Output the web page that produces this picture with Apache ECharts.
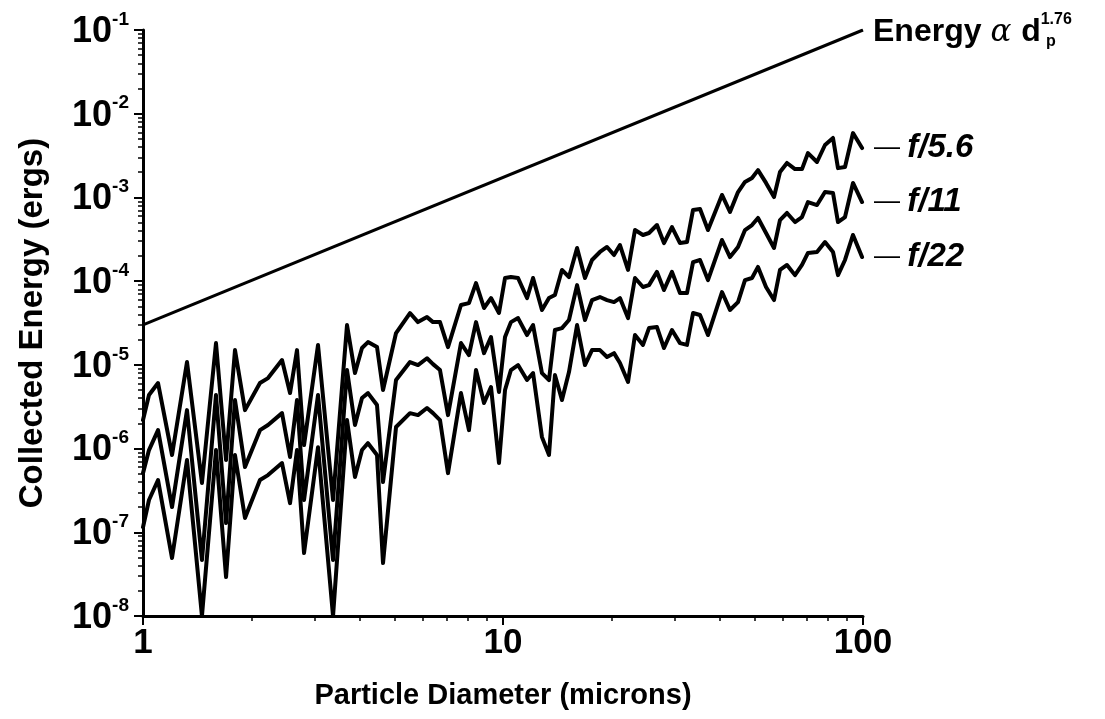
<!DOCTYPE html>
<html><head><meta charset="utf-8">
<script src="https://cdn.jsdelivr.net/npm/echarts@6/dist/echarts.min.js"></script>
<style>html,body{margin:0;padding:0;background:#fff}#c{width:1105px;height:719px}</style>
</head><body><div id="c"></div>
<script>
// Particle diameter (microns), shared sampling of the three aperture curves
const diameters = [1.000,1.039,1.101,1.204,1.325,1.458,1.595,1.701,1.801,1.920,
  2.113,2.225,2.433,2.561,2.678,2.801,3.063,3.372,3.687,3.880,
  4.058,4.217,4.467,4.642,5.045,5.516,5.805,6.150,6.391,6.683,
  7.034,7.643,8.043,8.414,8.856,9.261,9.747,10.13,10.52,11.01,
  11.66,12.12,12.83,13.42,13.94,14.58,15.25,16.06,16.89,17.67,
  18.59,19.45,20.34,21.13,22.25,23.26,24.48,25.44,26.77,28.00,
  29.47,31.02,32.44,33.72,35.26,37.10,40.58,42.71,44.96,47.01,
  49.17,51.09,53.78,56.60,58.81,61.50,64.73,67.69,70.34,74.51,
  78.42,82.54,85.22,89.13,93.80,99.40];
// Collected energy (ergs)
const energyF56 = [2.19e-6,4.36e-6,6.07e-6,8.38e-7,1.08e-5,3.87e-7,1.82e-5,7.29e-7,1.50e-5,2.88e-6,
  6.07e-6,6.95e-6,1.14e-5,4.60e-6,1.50e-5,1.10e-6,1.73e-5,2.43e-7,2.99e-5,7.98e-6,
  1.59e-5,1.87e-5,1.63e-5,5.00e-6,2.40e-5,4.16e-5,3.24e-5,3.72e-5,3.24e-5,3.24e-5,
  1.63e-5,5.19e-5,5.47e-5,9.48e-5,4.78e-5,6.28e-5,4.16e-5,1.09e-4,1.12e-4,1.09e-4,
  6.28e-5,1.09e-4,4.52e-5,6.28e-5,6.82e-5,1.36e-4,1.12e-4,2.49e-4,1.09e-4,1.79e-4,
  2.23e-4,2.56e-4,2.05e-4,2.70e-4,1.36e-4,4.08e-4,3.56e-4,3.76e-4,4.68e-4,2.85e-4,
  4.43e-4,2.85e-4,2.93e-4,7.08e-4,7.26e-4,4.08e-4,1.07e-3,6.70e-4,1.16e-3,1.53e-3,
  1.71e-3,2.12e-3,1.49e-3,1.01e-3,2.01e-3,2.58e-3,2.18e-3,2.18e-3,3.39e-3,2.65e-3,
  4.23e-3,5.13e-3,2.24e-3,2.31e-3,5.87e-3,3.89e-3];
const energyF11 = [5.09e-7,9.60e-7,1.66e-6,2.00e-7,2.88e-6,4.66e-8,4.36e-6,1.29e-7,3.80e-6,6.01e-7,
  1.66e-6,1.91e-6,2.65e-6,7.93e-7,3.80e-6,2.43e-7,4.36e-6,4.66e-8,8.67e-6,1.91e-6,
  4.01e-6,4.60e-6,3.31e-6,3.98e-7,6.59e-6,1.08e-5,9.95e-6,1.20e-5,1.02e-5,8.67e-6,
  2.51e-6,1.82e-5,1.31e-5,3.24e-5,1.38e-5,2.15e-5,4.73e-6,2.15e-5,3.24e-5,3.62e-5,
  2.27e-5,2.99e-5,7.98e-6,6.59e-6,2.61e-5,2.75e-5,3.43e-5,8.97e-5,3.43e-5,5.94e-5,
  6.46e-5,5.94e-5,5.62e-5,6.28e-5,3.62e-5,1.09e-4,8.51e-5,8.97e-5,1.29e-4,7.83e-5,
  1.29e-4,7.21e-5,7.21e-5,1.69e-4,1.79e-4,1.03e-4,3.10e-4,1.94e-4,2.56e-4,4.08e-4,
  4.68e-4,5.68e-4,3.76e-4,2.49e-4,5.37e-4,6.52e-4,5.08e-4,5.83e-4,8.81e-4,8.11e-4,
  1.16e-3,1.13e-3,5.08e-4,5.83e-4,1.49e-3,8.81e-4];
const energyF22 = [1.15e-7,2.43e-7,4.21e-7,4.92e-8,7.29e-7,1.00e-8,9.60e-7,2.92e-8,8.38e-7,1.48e-7,
  4.21e-7,4.82e-7,6.71e-7,2.23e-7,9.60e-7,5.65e-8,1.04e-6,1.00e-8,2.19e-6,4.57e-7,
  9.60e-7,1.16e-6,8.38e-7,4.29e-8,1.81e-6,2.65e-6,2.51e-6,3.05e-6,2.65e-6,2.19e-6,
  5.09e-7,4.60e-6,1.66e-6,8.67e-6,3.50e-6,5.43e-6,6.71e-7,5.00e-6,8.67e-6,9.95e-6,
  6.59e-6,7.98e-6,1.37e-6,8.38e-7,7.55e-6,3.80e-6,8.20e-6,2.99e-5,9.95e-6,1.50e-5,
  1.50e-5,1.24e-5,1.38e-5,1.05e-5,6.24e-6,2.27e-5,1.73e-5,2.75e-5,2.83e-5,1.59e-5,
  2.61e-5,1.82e-5,1.73e-5,4.16e-5,3.94e-5,2.27e-5,7.41e-5,4.52e-5,5.62e-5,1.03e-4,
  1.09e-4,1.48e-4,8.51e-5,5.94e-5,1.36e-4,1.56e-4,1.18e-4,1.56e-4,2.17e-4,2.23e-4,
  2.93e-4,2.23e-4,1.18e-4,1.79e-4,3.56e-4,1.94e-4];
// Reference power law  Energy ∝ d^1.76
const powerLawDiam = [1, 100];
const powerLawEnergy = [3.0e-5, 0.1];

const curveNames = ['f/5.6', 'f/11', 'f/22'];
const xTickValues = [1, 10, 100];
const xTickLabels = ['1', '10', '100'];
const yTickValues = [1e-8, 1e-7, 1e-6, 1e-5, 1e-4, 1e-3, 1e-2, 1e-1];
const yTickSup = ['-8', '-7', '-6', '-5', '-4', '-3', '-2', '-1'];
const xTitle = 'Particle Diameter (microns)';
const yTitle = 'Collected Energy (ergs)';

const minorX = [], minorY = [];
[1, 10].forEach(d => { for (let k = 1; k <= 9; k++) minorX.push(+(k * d).toPrecision(3)); });
minorX.push(100);
for (let e = -8; e <= -2; e++) for (let k = 1; k <= 9; k++) minorY.push(+(k * Math.pow(10, e)).toPrecision(3));
minorY.push(0.1);

const FONT = '"Liberation Sans", Arial, Helvetica, sans-serif';
const gridBox = { left: 143, right: 242, top: 30, bottom: 103 };

const chart = echarts.init(document.getElementById('c'), null, { renderer: 'canvas' });
const pairs = arr => diameters.map((d, i) => [d, arr[i]]);
const curveData = [energyF56, energyF11, energyF22];

const curveSeries = curveNames.map((n, i) => ({
  type: 'line', name: n, xAxisIndex: 1, yAxisIndex: 1,
  data: pairs(curveData[i]), symbol: 'none', silent: true,
  lineStyle: { color: '#000', width: 4, join: 'round', cap: 'round' },
  endLabel: { show: true, formatter: '{d|— }{t|' + n + '}', distance: 12, color: '#000',
    rich: {
      d: { fontFamily: FONT, fontSize: 26, color: '#000' },
      t: { fontFamily: FONT, fontSize: 33, fontStyle: 'italic', fontWeight: 'bold', color: '#000' }
    } }
}));

chart.setOption({
  animation: false,
  backgroundColor: '#fff',
  grid: [Object.assign({}, gridBox), Object.assign({}, gridBox)],
  xAxis: [
    { type: 'log', gridIndex: 0, min: 1, max: 100,
      axisLine: { lineStyle: { color: '#000', width: 3 } },
      axisTick: { show: true, length: 5, customValues: minorX, lineStyle: { color: '#000', width: 1.5 } },
      axisLabel: { show: false }, splitLine: { show: false } },
    { type: 'log', gridIndex: 1, min: 1, max: 100,
      axisLine: { show: false },
      axisTick: { show: true, length: 9, customValues: xTickValues, lineStyle: { color: '#000', width: 2 } },
      axisLabel: { customValues: xTickValues, margin: 10, color: '#000', fontFamily: FONT, fontSize: 35, fontWeight: 'bold',
        formatter: v => xTickLabels[xTickValues.findIndex(t => Math.abs(t - v) / t < 1e-6)] },
      splitLine: { show: false },
      name: xTitle, nameLocation: 'middle', nameGap: 65,
      nameTextStyle: { color: '#000', fontFamily: FONT, fontSize: 29, fontWeight: 'bold' } }
  ],
  yAxis: [
    { type: 'log', gridIndex: 0, min: 1e-8, max: 1e-1,
      axisLine: { lineStyle: { color: '#000', width: 3 } },
      axisTick: { show: true, length: 5, customValues: minorY, lineStyle: { color: '#000', width: 1.5 } },
      axisLabel: { show: false }, splitLine: { show: false } },
    { type: 'log', gridIndex: 1, min: 1e-8, max: 1e-1,
      axisLine: { show: false },
      axisTick: { show: true, length: 9, customValues: yTickValues, lineStyle: { color: '#000', width: 2 } },
      axisLabel: { customValues: yTickValues, margin: 14, color: '#000',
        formatter: v => {
          const i = yTickValues.findIndex(t => Math.abs(t - v) / t < 1e-6);
          return '{b|10}{s|' + yTickSup[i] + '}';
        },
        rich: {
          b: { fontFamily: FONT, fontSize: 36, fontWeight: 'bold', color: '#000', verticalAlign: 'bottom', lineHeight: 40 },
          s: { fontFamily: FONT, fontSize: 19, fontWeight: 'bold', color: '#000', verticalAlign: 'top', lineHeight: 40 }
        } },
      splitLine: { show: false },
      name: yTitle, nameLocation: 'middle', nameGap: 94, nameRotate: 90,
      nameTextStyle: { color: '#000', fontFamily: FONT, fontSize: 33, fontWeight: 'bold' } }
  ],
  series: curveSeries.concat([{
    type: 'line', name: 'power law', xAxisIndex: 1, yAxisIndex: 1,
    data: powerLawDiam.map((d, i) => [d, powerLawEnergy[i]]), symbol: 'none', silent: true,
    lineStyle: { color: '#000', width: 3 },
    endLabel: { show: true, distance: 10, color: '#000',
      formatter: '{n|Energy }{a|α }{n|d}{s|1.76}',
      rich: {
        n: { fontFamily: FONT, fontSize: 32, fontWeight: 'bold', color: '#000', verticalAlign: 'bottom', lineHeight: 36 },
        a: { fontFamily: '"DejaVu Serif", serif', fontSize: 31, fontStyle: 'italic', color: '#000', verticalAlign: 'bottom', lineHeight: 36 },
        s: { fontFamily: FONT, fontSize: 16, fontWeight: 'bold', color: '#000', verticalAlign: 'top', lineHeight: 36 }
      } }
  }]),
  graphic: [{ type: 'text', left: 1046, top: 34,
    style: { text: 'p', fill: '#000', font: 'bold 16px ' + FONT } }]
});
</script></body></html>
